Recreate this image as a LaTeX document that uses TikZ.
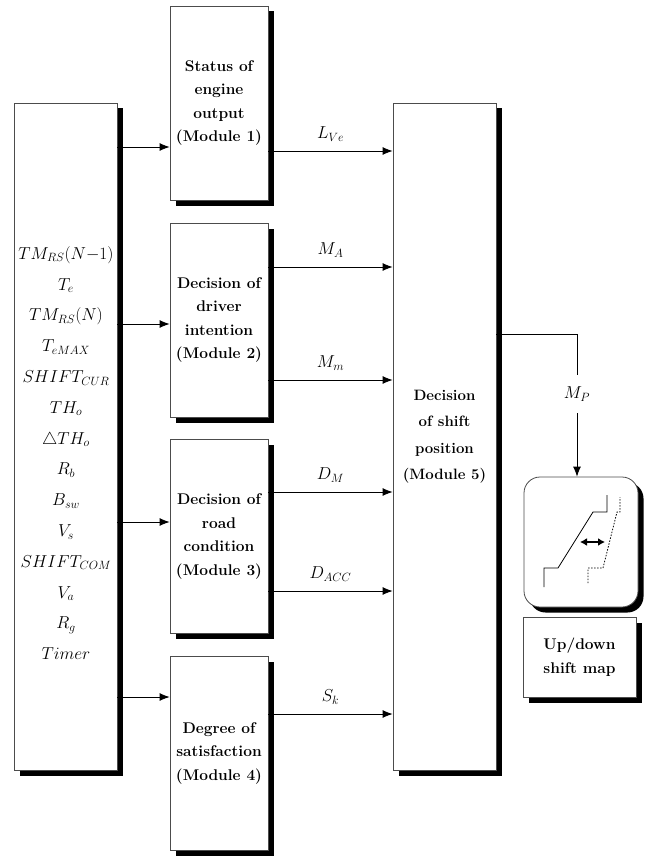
\documentclass[tikz,border=0pt]{standalone}
\usepackage{amssymb}
\usepackage{amsmath}
\usepackage{tikz}
\usetikzlibrary{arrows.meta,shadows}

\tikzset{
  box/.style={draw=black!70, line width=0.8pt, fill=white,
    drop shadow={fill=black, opacity=1, shadow xshift=5.5pt, shadow yshift=-5.5pt}},
  modbox/.style={box, minimum width=98pt, minimum height=194pt, align=center,
    font=\fontsize{15.5}{23.5}\selectfont\bfseries},
  arr/.style={-{Latex[length=10pt,width=8pt]}, line width=0.8pt},
  lab/.style={above=6pt, font=\fontsize{17}{19}\selectfont}
}

\begin{document}
\begin{tikzpicture}[x=1pt, y=-1pt]
  \useasboundingbox (0,0) rectangle (645,856);

  % Draw input and decision boxes
  \node[box, minimum width=103pt, minimum height=667pt] (inputs) at (65.5,436.5) {};
  \node[font=\fontsize{16.5}{30.8}\selectfont, align=center] (vars) at (66,453) {%
    $TM_{RS}(N{-}1)$\\ $T_e$\\ $TM_{RS}(N)$\\ $T_{eMAX}$\\ $SHIFT_{CUR}$\\
    $TH_o$\\ $\triangle TH_o$\\ $R_b$\\ $B_{sw}$\\ $V_s$\\ $SHIFT_{COM}$\\
    $V_a$\\ $R_g$\\ $Timer$};
  \node[box, minimum width=103pt, minimum height=667pt, align=center,
    font=\fontsize{15}{26.5}\selectfont\bfseries] (m5) at (444.5,436.5)
    {Decision\\ of shift\\ position\\ (Module 5)};

  % Modules
  \node[modbox] (m1) at (219,103) {Status of\\ engine\\ output\\ (Module 1)};
  \node[modbox] (m2) at (219,320) {Decision of\\ driver\\ intention\\ (Module 2)};
  \node[modbox] (m3) at (219,536.5) {Decision of\\ road\\ condition\\ (Module 3)};
  \node[modbox] (m4) at (219,753.5) {Degree of\\ satisfaction\\ (Module 4)};

  % Inputs to modules
  \foreach \m/\y in {m1/147, m2/324, m3/522, m4/697}
    \draw[arr] (inputs.east |- 0,\y) -- (\m.west |- 0,\y);

  % Module outputs
  \foreach \m/\y/\txt in {m1/151/L_{Ve}, m2/267/M_A, m2/380/M_m,
                          m3/492/D_M, m3/591/D_{ACC}, m4/714/S_k}
    \draw[arr] (\m.east |- 0,\y) -- node[lab] {$\txt$} (m5.west |- 0,\y);

  % Shift map
  \node[box, rounded corners=16pt, minimum width=114pt, minimum height=130pt] (map) at (581,542) {};
  \node[box, minimum width=113pt, minimum height=80pt, align=center,
    font=\fontsize{15.5}{24}\selectfont\bfseries] (mapname) at (579.5,657) {Up/down\\ shift map};

  \draw[arr] (m5.east |- 0,334) -| node[pos=0.71, fill=white, inner ysep=12pt,
    font=\fontsize{17}{19}\selectfont] (mp) {$M_P$} ([xshift=-4pt]map.north);

  % Shift lines
  \draw[line width=0.8pt] (544,587) -- (544,568) -- (558,568) -- (593,512) -- (607,512) -- (607,495);
  \draw[line width=0.8pt, dash pattern=on 1.5pt off 1.5pt] (588,583) -- (588,568) -- (603,568) -- (617,512) -- (620,512) -- (620,497);
  \draw[{Latex[length=7pt,width=8pt]}-{Latex[length=7pt,width=8pt]}, line width=1.4pt] (580,542) -- (605,542);
\end{tikzpicture}
\end{document}
